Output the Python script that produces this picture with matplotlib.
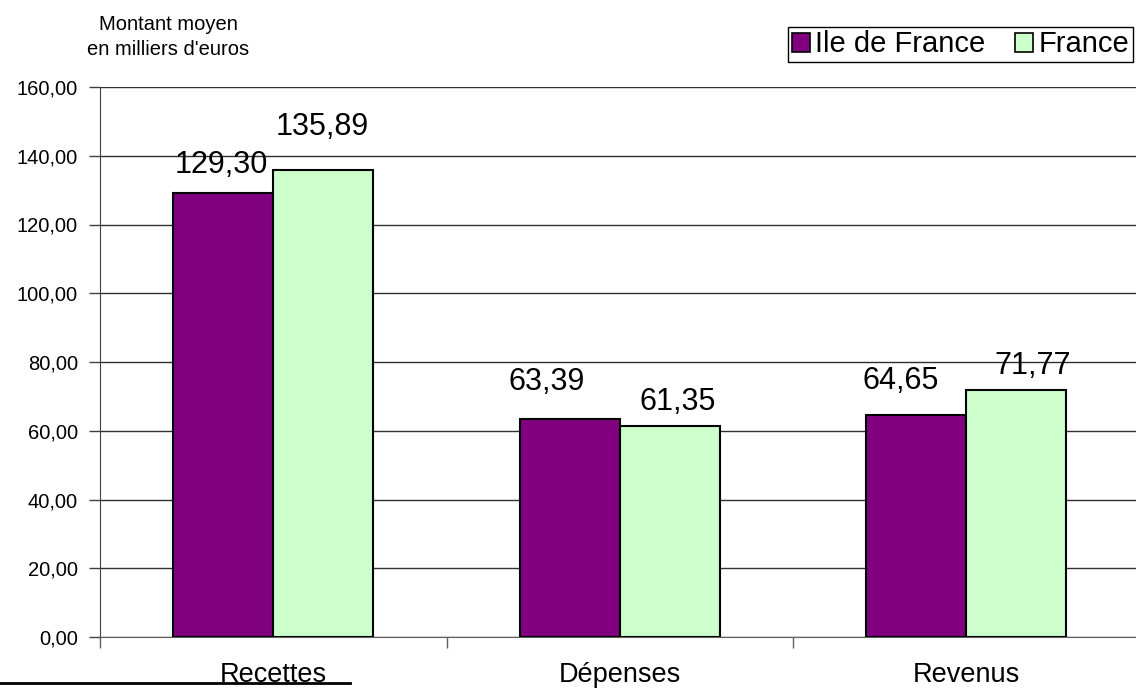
import matplotlib
matplotlib.use("Agg")
import matplotlib.pyplot as plt
from matplotlib.patches import Patch
from matplotlib.lines import Line2D

plt.rcParams['font.family'] = ['Liberation Sans', 'DejaVu Sans']

categories = ["Recettes", "Dépenses", "Revenus"]
series_names = ["Ile de France", "France"]
idf_values = [129.30, 63.39, 64.65]
france_values = [135.89, 61.35, 71.77]
value_labels_idf = ["129,30", "63,39", "64,65"]
value_labels_fr = ["135,89", "61,35", "71,77"]
yticks = [0, 20, 40, 60, 80, 100, 120, 140, 160]
ytick_labels = ["0,00", "20,00", "40,00", "60,00", "80,00", "100,00", "120,00", "140,00", "160,00"]
ylabel_text = "Montant moyen\nen milliers d'euros"

# label placement offsets (pixels) relative to bar top centre (style only)
offsets_idf = [(-2, 20), (-23, 29), (-16, 26)]
offsets_fr = [(-1, 35), (8, 16), (16, 16)]

color_idf = "#800080"
color_fr = "#CCFFCC"

W, H = 1136, 688
fig = plt.figure(figsize=(W / 100, H / 100), dpi=100)
ax = fig.add_axes([100 / W, 1 - 637 / H, 1039.5 / W, 550 / H])

bw = 100 / 346.5
n = len(categories)
xc = [i + 0.5 for i in range(n)]
ax.bar([x - bw for x in xc], idf_values, width=bw, align='edge',
       color=color_idf, edgecolor='black', linewidth=1.5, zorder=3)
ax.bar(xc, france_values, width=bw, align='edge',
       color=color_fr, edgecolor='black', linewidth=1.5, zorder=3)

for x, v, lab, off in zip(xc, idf_values, value_labels_idf, offsets_idf):
    ax.annotate(lab, (x - bw / 2, v), xytext=off, textcoords='offset pixels',
                ha='center', va='baseline', fontsize=22, color='black', zorder=5)
for x, v, lab, off in zip(xc, france_values, value_labels_fr, offsets_fr):
    ax.annotate(lab, (x + bw / 2, v), xytext=off, textcoords='offset pixels',
                ha='center', va='baseline', fontsize=22, color='black', zorder=5)

ax.set_xlim(0, n)
ax.set_ylim(0, 160)
ax.set_yticks(yticks)
ax.set_yticklabels(ytick_labels, fontsize=14.5)
ax.yaxis.grid(True, color='#303030', linewidth=1, zorder=0)
ax.set_axisbelow(True)

# x ticks at category boundaries, labels at centres
ax.set_xticks(range(n + 1))
ax.set_xticklabels([""] * (n + 1))
ax.set_xticks(xc, minor=True)
ax.set_xticklabels(categories, minor=True, fontsize=19.5)
ax.tick_params(axis='x', which='minor', length=0, pad=18)
ax.tick_params(axis='x', which='major', length=8, color='#606060', width=1)
ax.tick_params(axis='y', length=8, color='#404040', width=1, pad=8)

for s in ['top', 'right']:
    ax.spines[s].set_visible(False)
ax.spines['left'].set_color('#404040')
ax.spines['bottom'].set_color('#606060')

fig.text(168 / W, 1 - 37 / H, ylabel_text, ha='center', va='center',
         fontsize=14.5, linespacing=1.35)

handles = [Patch(facecolor=color_idf, edgecolor='black', linewidth=1.2),
           Patch(facecolor=color_fr, edgecolor='black', linewidth=1.2)]
leg = fig.legend(handles, series_names, loc='upper left',
                 bbox_to_anchor=(788 / W, 1 - 27 / H), fontsize=21,
                 ncol=2, frameon=True, fancybox=False, framealpha=1,
                 edgecolor='black', handlelength=0.62, handleheight=0.62,
                 handletextpad=0.2, columnspacing=1.0, borderpad=0.12,
                 borderaxespad=0)
leg.get_frame().set_linewidth(1.0)

fig.add_artist(Line2D([0, 350 / W], [1 - 683 / H, 1 - 683 / H],
                      color='black', linewidth=2, zorder=10))

fig.savefig("out.png", dpi=100)
